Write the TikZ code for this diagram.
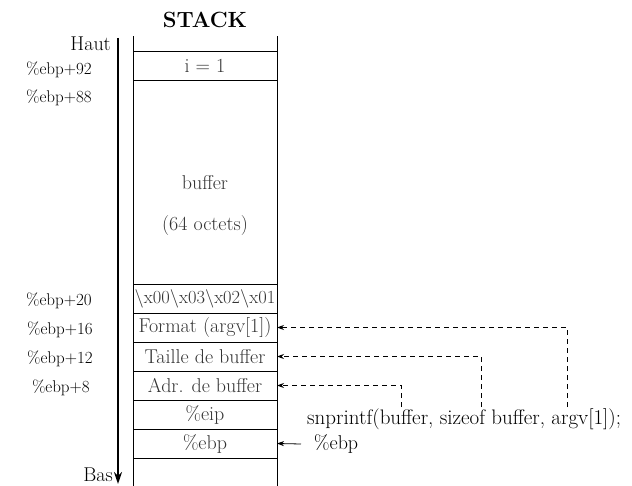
\documentclass[tikz,border=0pt]{standalone}
\usetikzlibrary{positioning,arrows.meta}
\tikzset{
    cell/.style={
        draw,
        line width=0.8pt,
        outer sep=0pt,
        inner sep=0pt,
        minimum width=144pt,
        minimum height=29pt,
        text=black!80,
        font=\fontsize{20}{24}\selectfont
    },
    celltext/.style={
        inner sep=0pt,
        text=black!80,
        font=\fontsize{20}{24}\selectfont
    },
    offset/.style={
        inner sep=0pt,
        font=\fontsize{17}{20}\selectfont
    },
    side/.style={
        inner sep=0pt,
        font=\fontsize{20}{24}\selectfont
    },
    ptr/.style={-{Stealth[length=7pt,width=5pt]}, line width=0.8pt},
    dptr/.style={ptr, dash pattern=on 5pt off 4pt}
}

\begin{document}
\begin{tikzpicture}[x=1pt,y=-1pt]
\useasboundingbox (0,0) rectangle (632,486);

% Title
\node[font=\bfseries\fontsize{22}{26}\selectfont] (title) at (205,20) {STACK};

% Stack cells
\node[cell] (i) at (205,65.5) {i = 1};
\node[cell, minimum height=204pt, below=0pt of i] (buf) {};
\node[cell, below=0pt of buf, font=\fontsize{18.5}{22}\selectfont] (bytes) {\textbackslash x00\textbackslash x03\textbackslash x02\textbackslash x01};
\node[cell, below=0pt of bytes] (fmt) {Format (argv[1])};
\node[cell, below=0pt of fmt] (size) {Taille de buffer};
\node[cell, below=0pt of size] (adr) {Adr. de buffer};
\node[cell, below=0pt of adr] (eip) {\%eip};
\node[cell, below=0pt of eip] (ebp) {\%ebp};

% Text inside the buffer
\node[celltext] (buftxt) at (205,183) {buffer};
\node[celltext] (bufsize) at (205,226) {(64 octets)};

% Open ends of the stack
\draw[line width=0.8pt] (i.north west) -- ++(0,-15);
\draw[line width=0.8pt] (i.north east) -- ++(0,-15);
\draw[line width=0.8pt] (ebp.south west) -- ++(0,29);
\draw[line width=0.8pt] (ebp.south east) -- ++(0,29);

% Direction arrow
\coordinate (haut) at (118,38);
\coordinate (bas) at (118,484);
\draw[-{Stealth[length=12pt,width=8pt]}, line width=2.2pt] (haut) -- (bas);
\node[side, anchor=east] (hautlbl) at (111,44) {Haut};
\node[side, anchor=east] (baslbl) at (113,475) {Bas};

% Offsets from %ebp
\node[offset] (o92) at (59,70) {\%ebp+92};
\node[offset] (o88) at (59,98) {\%ebp+88};
\node[offset] (o20) at (59,301) {\%ebp+20};
\node[offset] (o16) at (60,330) {\%ebp+16};
\node[offset] (o12) at (60,359) {\%ebp+12};
\node[offset] (o8) at (61,388) {\%ebp+8};

% Call and its arguments
\node[inner sep=0pt, anchor=west, font=\fontsize{21}{25}\selectfont] (call) at (307,419) {snprintf(buffer, sizeof buffer, argv[1]);};
\coordinate (arg1) at (401,407);
\coordinate (arg2) at (481,407);
\coordinate (arg3) at (567,407);
\draw[dptr] (arg1) |- (adr.east);
\draw[dptr] (arg2) |- (size.east);
\draw[dptr] (arg3) |- (fmt.east);

% Frame pointer
\node[side, anchor=west] (ebplbl) at (314,444) {\%ebp};
\coordinate (ebpend) at (301,444);
\draw[ptr] (ebpend) -- (ebp.east);

\end{tikzpicture}
\end{document}
